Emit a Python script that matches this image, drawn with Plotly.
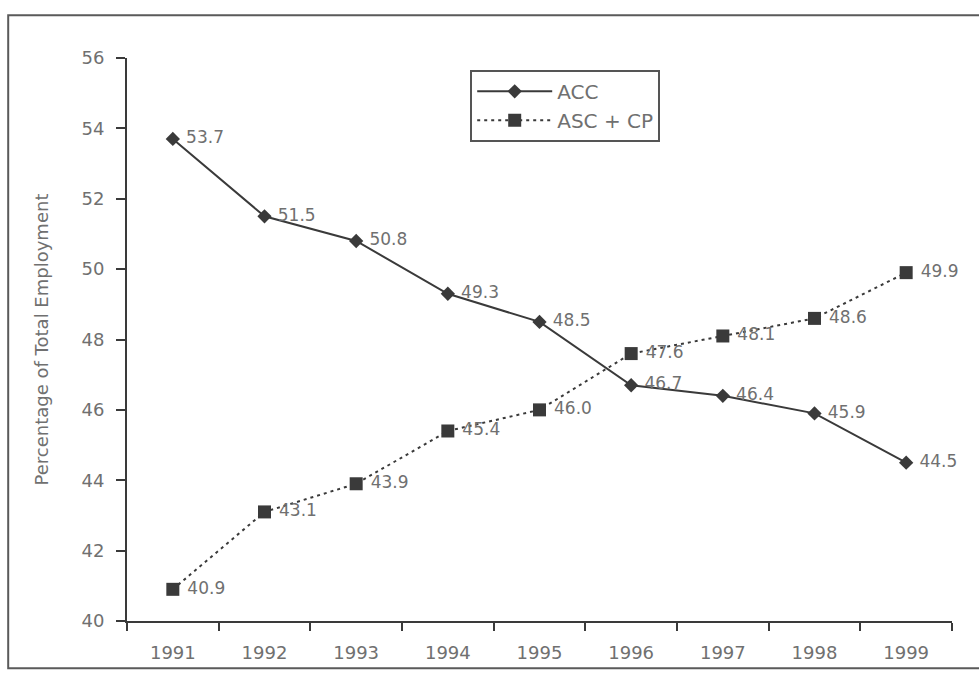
import plotly.graph_objects as go

years = ["1991", "1992", "1993", "1994", "1995", "1996", "1997", "1998", "1999"]
acc = [53.7, 51.5, 50.8, 49.3, 48.5, 46.7, 46.4, 45.9, 44.5]
asc_cp = [40.9, 43.1, 43.9, 45.4, 46.0, 47.6, 48.1, 48.6, 49.9]
y_ticks = [40, 42, 44, 46, 48, 50, 52, 54, 56]

ink = "#3a3a3a"
label_grey = "#707070"
font_family = "DejaVu Sans, Verdana, sans-serif"

fig = go.Figure()

fig.add_trace(go.Scatter(
    x=years, y=acc, name="ACC",
    mode="lines+markers+text",
    line=dict(color=ink, width=2),
    marker=dict(symbol="diamond", size=11, color=ink),
    text=[f" {v:.1f}" for v in acc],
    textposition="middle right",
    textfont=dict(size=17, color=label_grey, family=font_family),
    cliponaxis=False,
))

fig.add_trace(go.Scatter(
    x=years, y=asc_cp, name="ASC + CP",
    mode="lines+markers+text",
    line=dict(color=ink, width=2, dash="3px,4px"),
    marker=dict(symbol="square", size=13, color=ink),
    text=[f" {v:.1f}" for v in asc_cp],
    textposition="middle right",
    textfont=dict(size=17, color=label_grey, family=font_family),
    cliponaxis=False,
))

# outer frame around the whole chart
fig.add_shape(type="rect", xref="paper", yref="paper",
              x0=-0.144, x1=1.06, y0=-0.084, y1=1.076,
              line=dict(color="#5a5a5a", width=2), layer="below")

fig.update_layout(
    width=979, height=675,
    margin=dict(l=127, r=27, t=58, b=51),
    paper_bgcolor="white", plot_bgcolor="white",
    font=dict(family=font_family, color=label_grey, size=17),
    showlegend=True,
    legend=dict(
        x=0.416, y=0.979, xanchor="left", yanchor="top",
        bgcolor="white", bordercolor="#555555", borderwidth=2,
        font=dict(size=20, color=label_grey, family=font_family),
        itemwidth=75, tracegroupgap=4,
    ),
    xaxis=dict(
        type="category", range=[-0.5, 8.5],
        showline=True, linecolor=ink, linewidth=2,
        ticks="outside", tickson="boundaries", ticklen=8,
        tickcolor=ink, tickwidth=2,
        showgrid=False, zeroline=False,
        tickfont=dict(size=18, color=label_grey),
        ticklabelstandoff=14,
    ),
    yaxis=dict(
        range=[40, 56], tickvals=y_ticks,
        showline=True, linecolor=ink, linewidth=2,
        ticks="outside", ticklen=9, tickcolor=ink, tickwidth=2,
        showgrid=False, zeroline=False,
        tickfont=dict(size=18, color=label_grey),
        ticklabelstandoff=8,
        title=dict(text="Percentage of Total Employment",
                   font=dict(size=18, color=label_grey), standoff=28),
    ),
)

fig.write_html("out.html")
